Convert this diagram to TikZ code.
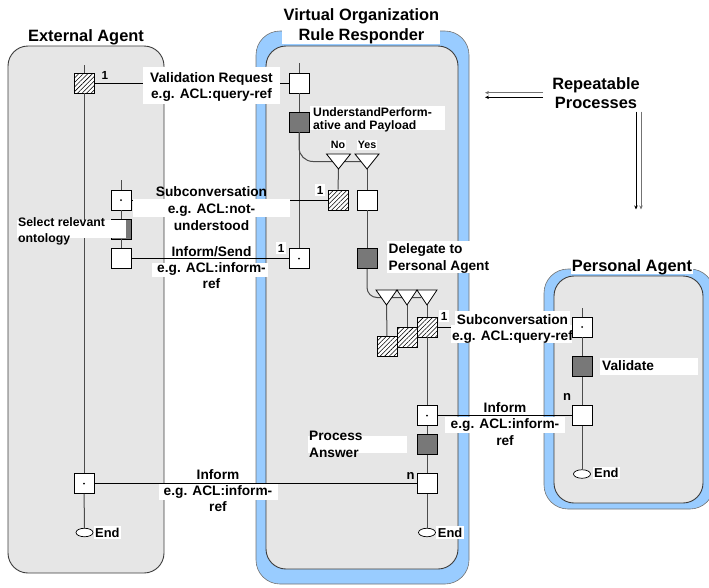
\documentclass[tikz,border=0pt]{standalone}
\usepackage{fontspec}
\setmainfont{Liberation Sans}
\usetikzlibrary{arrows.meta,patterns,patterns.meta,shapes.geometric,calc}

\definecolor{lanegray}{HTML}{E6E6E6}
\definecolor{laneblue}{HTML}{99CCFF}
\definecolor{edgegray}{HTML}{3C3C3C}
\definecolor{actgray}{HTML}{787878}

\begin{document}
\begin{tikzpicture}[x=1pt,y=-1pt,
  lane/.style={fill=lanegray,draw=edgegray,line width=0.9pt,rounded corners=20pt},
  halo/.style={fill=laneblue,draw=black!55,line width=0.6pt,rounded corners=24pt},
  msgbox/.style={draw=black,fill=white,minimum size=20pt,inner sep=0pt,line width=0.8pt},
  actbox/.style={msgbox,fill=actgray},
  hatchbox/.style={msgbox,preaction={fill=white},pattern={Lines[angle=45,distance=3.2pt,line width=0.55pt]}},
  dotbox/.style={path picture={\fill[black] (path picture bounding box.center) circle (1pt);}},
  endmark/.style={ellipse,draw=black,fill=white,line width=0.7pt,minimum width=17pt,minimum height=8.5pt,inner sep=0pt},
  tri/.style={draw=black,fill=white,line width=0.8pt,line join=miter},
  life/.style={draw=black!70,line width=1pt},
  msg/.style={draw=black,line width=0.8pt},
  patch/.style={fill=white},
  title/.style={inner sep=0pt,align=center,anchor=north,font=\bfseries\fontsize{16.4}{20}\selectfont},
  lab/.style={inner sep=0pt,align=center,anchor=north,font=\bfseries\fontsize{13.7}{16.5}\selectfont},
  labl/.style={inner sep=0pt,align=left,anchor=north west,font=\bfseries\fontsize{13.7}{16.7}\selectfont},
  note/.style={inner sep=0pt,align=left,anchor=north west,font=\bfseries\fontsize{12.2}{12.7}\selectfont},
  endlab/.style={fill=white,inner sep=1.5pt,anchor=north west,font=\bfseries\fontsize{12.9}{15}\selectfont},
  num/.style={inner sep=0pt,anchor=base,font=\bfseries\fontsize{11.7}{14}\selectfont},
  numw/.style={num,fill=white,inner sep=1.5pt},
  yn/.style={fill=white,inner sep=1pt,anchor=north,font=\bfseries\fontsize{10.7}{12}\selectfont},
  rep/.style={line width=0.8pt,-{Stealth[length=4pt,width=3.5pt]}}
]
\useasboundingbox (0,0) rectangle (709,587);

% swimlanes
\path[lane] (8,46) rectangle (164,573);
\path[halo] (256,31) rectangle (469,584);
\path[lane] (266,46) rectangle (458,569);
\path[halo] (544,269) rectangle (714,509);
\path[lane] (554,276) rectangle (703,503);

% External Agent boxes
\node[hatchbox] (ea1) at (84,83) {};
\node[msgbox,dotbox] (ea2) at (121,200) {};
\node[actbox] (ea3) at (121,229) {};
\node[msgbox] (ea4) at (121,258.5) {};
\node[msgbox,dotbox] (ea5) at (84,483.5) {};
\node[endmark] (eaEnd) at (84.5,532.5) {};

% Rule Responder boxes
\node[msgbox] (vo1) at (299,83) {};
\node[actbox] (vo2) at (299,122) {};
\node[hatchbox] (vo3) at (338,200) {};
\node[msgbox] (vo4) at (367,200) {};
\node[msgbox,dotbox] (vo5) at (299,258.5) {};
\node[actbox] (vo6) at (367,258.5) {};
\node[hatchbox] (vo7) at (387,346.5) {};
\node[hatchbox] (vo8) at (407,337) {};
\node[hatchbox] (vo9) at (427,327) {};
\node[msgbox,dotbox] (vo10) at (427,415.5) {};
\node[actbox] (vo11) at (427,444.5) {};
\node[msgbox] (vo12) at (427,483.5) {};
\node[endmark] (voEnd) at (427,532.5) {};

% Personal Agent boxes
\node[msgbox,dotbox] (pa1) at (582,327) {};
\node[actbox] (pa2) at (582,366.5) {};
\node[msgbox] (pa3) at (582,415.5) {};
\node[endmark] (paEnd) at (582,474) {};

% lifeline ends and branch points
\coordinate (eaTop) at (84,65);
\coordinate (ea2Top) at (121,180);
\coordinate (voTop) at (299,63);
\coordinate (paTop) at (582,308);
\coordinate (noTip) at (338.5,169);
\coordinate (yesTip) at (367,169);
\coordinate (yesL) at (361,161.5);
\coordinate (t1Tip) at (386.5,305);
\coordinate (t2Tip) at (407,305);
\coordinate (t3Tip) at (427,305);
\coordinate (forkL) at (421,297.5);

% lifelines
\draw[life] (eaTop) -- (ea1);
\draw[life] (ea1) -- (ea5);
\draw[life] (ea5) -- (eaEnd);
\draw[life] (ea2Top) -- (ea2);
\draw[life] (ea2) -- (ea3);
\draw[life] (ea3) -- (ea4);
\draw[life] (voTop) -- (vo1);
\draw[life] (vo1) -- (vo2);
\draw[life] (vo2) -- (vo5);
\draw[life,rounded corners=14pt] (vo2.south) |- (yesL);
\draw[life] (noTip) -- (vo3.north);
\draw[life] (yesTip) -- (vo4.north);
\draw[life] (vo4) -- (vo6);
\draw[life,rounded corners=10pt] (vo6.south) |- (forkL);
\draw[life] (t1Tip) -- (vo7.north);
\draw[life] (t2Tip) -- (vo8.north);
\draw[life] (t3Tip) -- (vo9.north);
\draw[life] (vo9) -- (vo10);
\draw[life] (vo10) -- (vo11);
\draw[life] (vo11) -- (vo12);
\draw[life] (vo12) -- (voEnd);
\draw[life] (paTop) -- (pa1);
\draw[life] (pa1) -- (pa2);
\draw[life] (pa2) -- (pa3);
\draw[life] (pa3) -- (paEnd);

% messages
\draw[msg] (ea1) -- (vo1);
\draw[msg] (ea2) -- (vo3);
\draw[msg] (ea4) -- (vo5);
\draw[msg] (vo9) -- (pa1);
\draw[msg] (pa3) -- (vo10);
\draw[msg] (ea5) -- (vo12);

% decision and fork triangles
\draw[tri] (326.5,154) -- (350.5,154) -- (noTip) -- cycle;
\draw[tri] (355,154) -- (379,154) -- (yesTip) -- cycle;
\draw[tri] (376,290) -- (397,290) -- (t1Tip) -- cycle;
\draw[tri] (397,290) -- (417,290) -- (t2Tip) -- cycle;
\draw[tri] (417,290) -- (437,290) -- (t3Tip) -- cycle;

% white label grounds
\fill[patch] (282,0) rectangle (440,44);
\fill[patch] (571,255) rectangle (693,274);
\fill[patch] (143,67) rectangle (280,104);
\fill[patch] (310,106) rectangle (445,130);
\fill[patch] (133,199) rectangle (290,217);
\fill[patch] (17,220) rectangle (126,238);
\fill[patch] (152,263) rectangle (268,277);
\fill[patch] (387,241) rectangle (470,273);
\fill[patch] (455,311) rectangle (570,325);
\fill[patch] (451,325) rectangle (572,343);
\fill[patch] (600,358) rectangle (698,375);
\fill[patch] (445,417) rectangle (565,433);
\fill[patch] (308,436) rectangle (407,453);
\fill[patch] (159,484) rectangle (278,500);

% titles
\node[title] (tEA) at (86,29.3) {External Agent};
\node[title] (tVO) at (361.5,8.3) {Virtual Organization\\Rule Responder};
\node[title] (tPA) at (632,259.3) {Personal Agent};
\node[title,font=\bfseries\fontsize{16.4}{19.4}\selectfont] (rp) at (596,77.3) {Repeatable\\Processes};

% message labels
\node[lab] (l1) at (211.5,72) {Validation Request\\e.g. ACL:query-ref};
\node[lab,font=\bfseries\fontsize{13.7}{16.7}\selectfont] (l2) at (211.5,186.7) {Subconversation\\e.g. ACL:not-\\understood};
\node[lab,font=\bfseries\fontsize{13.7}{16.2}\selectfont] (l3) at (211.5,246) {Inform/Send\\e.g. ACL:inform-\\ref};
\node[lab,font=\bfseries\fontsize{13.7}{16.7}\selectfont] (l4) at (512.5,314) {Subconversation\\e.g. ACL:query-ref};
\node[lab,font=\bfseries\fontsize{13.7}{16.4}\selectfont] (l5) at (505,402.3) {Inform\\e.g. ACL:inform-\\ref};
\node[lab,font=\bfseries\fontsize{13.7}{16.4}\selectfont] (l6) at (218,469) {Inform\\e.g. ACL:inform-\\ref};

% activity labels
\node[note] (a1) at (313,107.7) {UnderstandPerform-\\ative and Payload};
\node[note,font=\bfseries\fontsize{12.3}{15.6}\selectfont] (a2) at (18,217.7) {Select relevant\\ontology};
\node[labl] (a3) at (388.5,243.3) {Delegate to\\Personal Agent};
\node[labl] (a4) at (602,360) {Validate};
\node[labl] (a5) at (309,430.7) {Process\\Answer};

% branch labels
\node[yn] (no) at (338,140) {No};
\node[yn] (yes) at (367,140) {Yes};

% cardinalities
\node[num] (c1) at (105,79) {1};
\node[numw] (c2) at (320,194) {1};
\node[numw] (c3) at (281,252) {1};
\node[numw] (c4) at (444,320) {1};
\node[num,font=\bfseries\fontsize{13}{15}\selectfont] (c5) at (410.5,479) {n};
\node[num,font=\bfseries\fontsize{13}{15}\selectfont] (c6) at (567,400.7) {n};

% end labels
\node[endlab] (e1) at (93.5,526) {End};
\node[endlab] (e2) at (436.2,526) {End};
\node[endlab] (e3) at (592.5,466.8) {End};

% repeatable-process arrows
\coordinate (rA1) at (543,92.7);
\coordinate (rA2) at (543,97.3);
\coordinate (rB1) at (485,92.7);
\coordinate (rB2) at (485,97.3);
\coordinate (rC1) at (636,111.7);
\coordinate (rC2) at (641,111.7);
\coordinate (rD1) at (636,209.5);
\coordinate (rD2) at (641,209.5);
\draw[rep,black!55] (rA1) -- (rB1);
\draw[rep,black] (rA2) -- (rB2);
\draw[rep,black] (rC1) -- (rD1);
\draw[rep,black!55] (rC2) -- (rD2);
\end{tikzpicture}
\end{document}
